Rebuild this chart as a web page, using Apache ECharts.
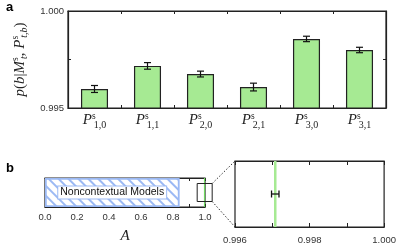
<!DOCTYPE html>
<html><head><meta charset="utf-8">
<script src="https://cdn.jsdelivr.net/npm/echarts@6/dist/echarts.min.js"></script>
<style>html,body{margin:0;padding:0;background:#fff}#c{width:399px;height:245px}</style>
</head><body><div id="c"></div>
<script>
// Panel a data
const categories = ['1,0', '1,1', '2,0', '2,1', '3,0', '3,1'];
const probValues = [0.99598, 0.99717, 0.99675, 0.99608, 0.99856, 0.99799];
const probErrors = [0.00018, 0.00017, 0.00015, 0.00020, 0.00014, 0.00014];
const yTicksA = [0.995, 1.000];
// Panel b data
const noncontextualBound = 0.84;
const measuredA = 0.99708;
const measuredAErr = 0.00010;
const zoomRange = [0.996, 1.000];
const zoomTickLabels = [0.996, 0.998, 1.000];

const green = '#a6ea93';
const blue = '#9bb9f4';
const serif = 'Liberation Serif';
const sans = 'Liberation Sans';

const chart = echarts.init(document.getElementById('c'), null, {renderer: 'canvas'});

const errData = categories.map((c, i) => [i, probValues[i] - probErrors[i], probValues[i] + probErrors[i]]);

function errRender(params, api) {
  const i = api.value(0);
  const lo = api.coord([i, api.value(1)]);
  const hi = api.coord([i, api.value(2)]);
  const w = 3.5;
  const st = {stroke: '#111', lineWidth: 1.2};
  return {type: 'group', children: [
    {type: 'line', shape: {x1: lo[0], y1: lo[1], x2: hi[0], y2: hi[1]}, style: st},
    {type: 'line', shape: {x1: lo[0] - w, y1: lo[1], x2: lo[0] + w, y2: lo[1]}, style: st},
    {type: 'line', shape: {x1: hi[0] - w, y1: hi[1], x2: hi[0] + w, y2: hi[1]}, style: st}
  ]};
}

const axisLineBlack = {show: true, lineStyle: {color: '#222', width: 1.2}};
const tickIn = (len) => ({show: true, inside: true, length: len, lineStyle: {color: '#222', width: 1}});

const mathRich = {
  p: {fontFamily: serif, fontStyle: 'italic', fontSize: 15, color: '#222', lineHeight: 19},
  i: {fontFamily: serif, fontStyle: 'italic', fontSize: 15, color: '#222', lineHeight: 19},
  r: {fontFamily: serif, fontSize: 15, color: '#222', lineHeight: 19},
  sup: {fontFamily: serif, fontSize: 9.5, color: '#222', verticalAlign: 'top', lineHeight: 8, width: 0, padding: [0, 0, 0, 2]},
  sub: {fontFamily: serif, fontSize: 10, color: '#222', verticalAlign: 'bottom', lineHeight: 10},
  subi: {fontFamily: serif, fontStyle: 'italic', fontSize: 10, color: '#222', verticalAlign: 'bottom', lineHeight: 10}
};

const option = {
  animation: false,
  title: [
    {text: 'a', left: 1, top: -4, textStyle: {fontFamily: sans, fontWeight: 'bold', fontSize: 13, color: '#000'}},
    {text: 'b', left: 1, top: 157, textStyle: {fontFamily: sans, fontWeight: 'bold', fontSize: 13, color: '#000'}}
  ],
  grid: [
    {left: 68, top: 11, width: 318, height: 97, show: true, borderColor: '#222', borderWidth: 1.2},
    {left: 45, top: 178, width: 160, height: 32, show: true, borderColor: '#222', borderWidth: 1.2},
    {left: 235, top: 161, width: 152, height: 69, show: true, borderColor: '#222', borderWidth: 1.2}
  ],
  xAxis: [
    {type: 'category', gridIndex: 0, data: categories, position: 'bottom',
     axisLine: axisLineBlack, axisTick: tickIn(3),
     axisLabel: {margin: 3, interval: 0,
       formatter: v => '{p|P}{sup|s}{sub|' + v + '}', rich: mathRich}},
    {type: 'category', gridIndex: 0, data: categories, position: 'top',
     axisLine: axisLineBlack, axisTick: tickIn(3), axisLabel: {show: false}},
    {type: 'value', gridIndex: 1, min: 0, max: 1, interval: 0.2, position: 'bottom',
     axisLine: axisLineBlack, axisTick: tickIn(3), splitLine: {show: false},
     minorTick: {show: true, splitNumber: 2, length: 3, lineStyle: {color: '#222'}},
     axisLabel: {margin: 5, fontFamily: sans, fontSize: 9.5, color: '#333', formatter: v => v.toFixed(1)},
     name: 'A', nameLocation: 'middle', nameGap: 22,
     nameTextStyle: {fontFamily: serif, fontStyle: 'italic', fontSize: 15, color: '#222'}},
    {type: 'value', gridIndex: 1, min: 0, max: 1, interval: 0.2, position: 'top',
     axisLine: axisLineBlack, axisTick: tickIn(3), splitLine: {show: false}, axisLabel: {show: false},
     minorTick: {show: true, splitNumber: 2, length: 3, lineStyle: {color: '#222'}}},
    {type: 'value', gridIndex: 2, min: zoomRange[0], max: zoomRange[1], interval: 0.001, position: 'bottom',
     axisLine: axisLineBlack, axisTick: tickIn(4), splitLine: {show: false},
     axisLabel: {margin: 8, fontFamily: sans, fontSize: 9.5, color: '#333',
       formatter: v => zoomTickLabels.some(t => Math.abs(t - v) < 1e-9) ? v.toFixed(3) : ''}},
    {type: 'value', gridIndex: 2, min: zoomRange[0], max: zoomRange[1], interval: 0.001, position: 'top',
     axisLine: axisLineBlack, axisTick: tickIn(4), splitLine: {show: false}, axisLabel: {show: false}}
  ],
  yAxis: [
    {type: 'value', gridIndex: 0, min: 0.995, max: 1.000, interval: 0.0025, position: 'left',
     axisLine: axisLineBlack, axisTick: tickIn(3), splitLine: {show: false},
     axisLabel: {margin: 4, fontFamily: sans, fontSize: 9.5, color: '#333',
       formatter: v => yTicksA.some(t => Math.abs(t - v) < 1e-9) ? v.toFixed(3) : ''},
     name: '{i|p}{r|(}{i|b}{r||}{i|M}{sup|s}{subi|t}{r|, }{i|P}{sup|s}{subi|t,b}{r|)}',
     nameLocation: 'middle', nameRotate: 90, nameGap: 33,
     nameTextStyle: {rich: mathRich}},
    {type: 'value', gridIndex: 0, min: 0.995, max: 1.000, interval: 0.0025, position: 'right',
     axisLine: axisLineBlack, axisTick: tickIn(3), splitLine: {show: false}, axisLabel: {show: false}},
    {type: 'category', gridIndex: 1, data: ['nc'], axisLine: {show: false}, axisTick: {show: false}, axisLabel: {show: false}},
    {type: 'value', gridIndex: 2, min: 0, max: 1, show: false}
  ],
  series: [
    {type: 'bar', xAxisIndex: 0, yAxisIndex: 0, data: probValues, barWidth: '51%',
     itemStyle: {color: green, borderColor: '#222', borderWidth: 1.2}},
    {type: 'custom', xAxisIndex: 0, yAxisIndex: 0, data: errData, renderItem: errRender, z: 5},
    {type: 'bar', xAxisIndex: 2, yAxisIndex: 2, data: [noncontextualBound], barWidth: '100%',
     itemStyle: {color: '#fff', borderColor: blue, borderWidth: 1.5,
       decal: {symbol: 'rect', symbolSize: 1, dashArrayX: [1, 0], dashArrayY: [1.2, 4.3], rotation: Math.PI / 4, color: blue}},
     label: {show: true, position: 'inside', formatter: 'Noncontextual Models', fontFamily: sans, fontSize: 10.5,
       color: '#111', backgroundColor: '#fff', borderColor: blue, borderWidth: 1, padding: [1, 2, 0, 2]}},
    {type: 'custom', xAxisIndex: 2, yAxisIndex: 2, data: [[measuredA]], z: 5,
     renderItem: (params, api) => {
       const cs = params.coordSys;
       const x = api.coord([api.value(0), 0])[0];
       const cx = api.coord([(zoomRange[0] + zoomRange[1]) / 2, 0])[0];
       const cy = cs.y + cs.height / 2;
       return {type: 'group', children: [
         {type: 'line', shape: {x1: x, y1: cs.y, x2: x, y2: cs.y + cs.height}, style: {stroke: '#6fd860', lineWidth: 1.2}},
         {type: 'rect', shape: {x: cx - 7.5, y: cy - 9, width: 15, height: 18}, style: {fill: 'none', stroke: '#222', lineWidth: 1}}
       ]};
     }},
    {type: 'custom', xAxisIndex: 4, yAxisIndex: 3, data: [[measuredA, 0.5]], z: 5,
     renderItem: (params, api) => {
       const cs = params.coordSys;
       const x = api.coord([api.value(0), 0])[0];
       const lo = api.coord([api.value(0) - measuredAErr, api.value(1)]);
       const hi = api.coord([api.value(0) + measuredAErr, api.value(1)]);
       const st = {stroke: '#111', lineWidth: 1.3};
       const h = 3.5;
       return {type: 'group', children: [
         {type: 'line', shape: {x1: x, y1: cs.y, x2: x, y2: cs.y + cs.height}, style: {stroke: green, lineWidth: 2.5}},
         {type: 'line', shape: {x1: lo[0], y1: lo[1], x2: hi[0], y2: hi[1]}, style: st},
         {type: 'line', shape: {x1: lo[0], y1: lo[1] - h, x2: lo[0], y2: lo[1] + h}, style: st},
         {type: 'line', shape: {x1: hi[0], y1: hi[1] - h, x2: hi[0], y2: hi[1] + h}, style: st}
       ]};
     }}
  ]
};
chart.setOption(option);

// dotted connector lines from the small zoom box to the zoomed panel
const cxPix = chart.convertToPixel({xAxisIndex: 2}, (zoomRange[0] + zoomRange[1]) / 2);
const zl = chart.convertToPixel({xAxisIndex: 4}, zoomRange[0]);
const zt = chart.convertToPixel({yAxisIndex: 3}, 1);
const zb = chart.convertToPixel({yAxisIndex: 3}, 0);
const g1 = chart.getModel().getComponent('grid', 1).coordinateSystem.getRect();
const bcy = g1.y + g1.height / 2;
const dash = {stroke: '#333', lineWidth: 1, lineDash: [1.5, 1.8]};
chart.setOption({graphic: [
  {type: 'line', shape: {x1: cxPix + 7.5, y1: bcy - 9, x2: zl, y2: zt}, style: dash, silent: true},
  {type: 'line', shape: {x1: cxPix + 7.5, y1: bcy + 9, x2: zl, y2: zb}, style: dash, silent: true}
]});
</script></body></html>
